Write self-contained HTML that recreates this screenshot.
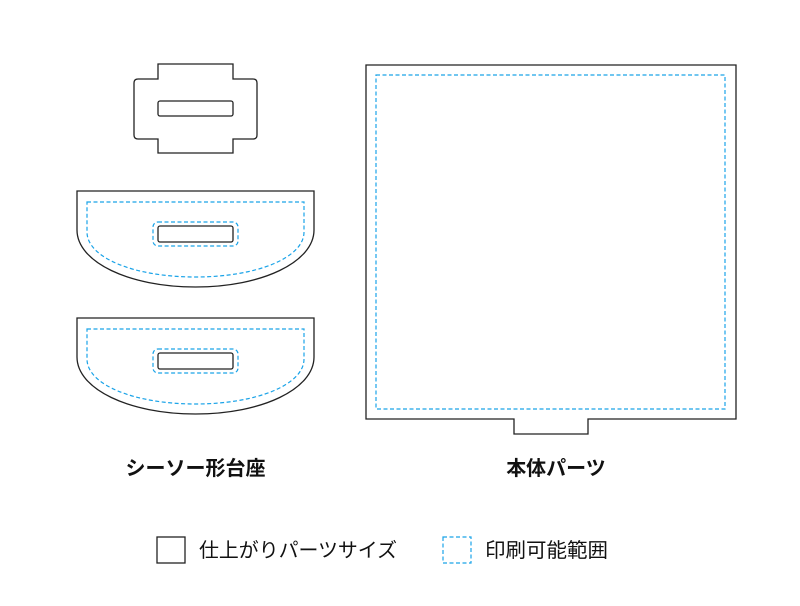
<!DOCTYPE html>
<html><head><meta charset="utf-8"><style>
html,body{margin:0;padding:0;background:#fff;}
svg{display:block}
text{font-family:"Liberation Sans","Noto Sans CJK JP",sans-serif;fill:#111}
</style></head><body>
<svg width="800" height="606" viewBox="0 0 800 606" xmlns="http://www.w3.org/2000/svg">
<g fill="none" stroke="#222" stroke-width="1.3">
<path d="M158,64 H233 V79 H253 Q257,79 257,83 V135 Q257,139 253,139 H233 V153 H158 V139 H138 Q134,139 134,135 V83 Q134,79 138,79 H158 Z"/>
<rect x="158" y="101" width="75" height="15" rx="2"/>
<path d="M77,191 H314 V230 C314,262 262,287 195.5,287 C129,287 77,262 77,230 Z"/>
<rect x="158" y="226" width="75" height="16" rx="2"/>
<path d="M77,318 H314 V357 C314,389 262,414 195.5,414 C129,414 77,389 77,357 Z"/>
<rect x="158" y="353" width="75" height="16" rx="2"/>
<path d="M366,65 H736 V419 H588 V434 H514 V419 H366 Z"/>
<rect x="157" y="537" width="28" height="26"/>
</g>
<g fill="none" stroke="#1aa3e8" stroke-width="1.2" stroke-dasharray="4,2.5">
<path d="M87,202 H304 V232 C304,258 256,277 195.5,277 C135,277 87,258 87,232 Z"/>
<rect x="153" y="222" width="85" height="24" rx="5"/>
<path d="M87,329 H304 V359 C304,385 256,404 195.5,404 C135,404 87,385 87,359 Z"/>
<rect x="153" y="349" width="85" height="24" rx="5"/>
<rect x="376" y="75" width="349" height="334"/>
<rect x="443" y="537" width="28" height="26"/>
</g>
<text x="195.5" y="475" font-size="20" font-weight="bold" text-anchor="middle">シーソー形台座</text>
<text x="556" y="475" font-size="20" font-weight="bold" text-anchor="middle">本体パーツ</text>
<text x="199" y="557" font-size="19.8" textLength="198" lengthAdjust="spacingAndGlyphs">仕上がりパーツサイズ</text>
<text x="485" y="557" font-size="20" textLength="123" lengthAdjust="spacingAndGlyphs">印刷可能範囲</text>
</svg>
</body></html>
